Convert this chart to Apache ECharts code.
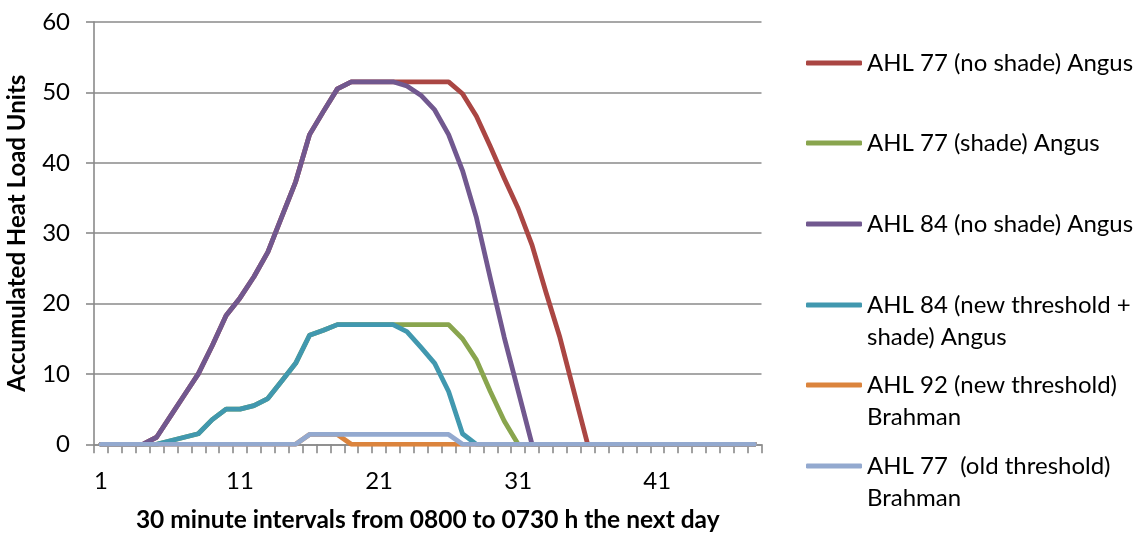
<!DOCTYPE html>
<html>
<head>
<meta charset="utf-8">
<title>Accumulated Heat Load Units</title>
<script src="https://cdn.jsdelivr.net/npm/echarts@6/dist/echarts.min.js"></script>
<style>
  html, body { margin: 0; padding: 0; background: #ffffff; }
  #chart { width: 1141px; height: 533px; }
</style>
</head>
<body>
<div id="chart"></div>
<script>
// 30-minute intervals, 1..48
const intervals = Array.from({ length: 48 }, (_, i) => String(i + 1));

const seriesNames = [
  'AHL 77 (no shade) Angus',
  'AHL 77 (shade) Angus',
  'AHL 84 (no shade) Angus',
  'AHL 84 (new threshold + shade) Angus',
  'AHL 92 (new threshold) Brahman',
  'AHL 77  (old threshold) Brahman'
];

// Legend wording, wrapped as printed
const legendLabels = [
  'AHL 77 (no shade) Angus',
  'AHL 77 (shade) Angus',
  'AHL 84 (no shade) Angus',
  'AHL 84 (new threshold +\nshade) Angus',
  'AHL 92 (new threshold)\nBrahman',
  'AHL 77  (old threshold)\nBrahman'
];

const seriesColors = ['#AA4643', '#89A54E', '#71588F', '#4198AF', '#DB843D', '#93A9CF'];

const ahl77NoShade = [0, 0, 0, 0, 1, 4, 7, 10, 14, 18.3, 20.8, 23.8, 27.3, 32.3, 37.3, 44, 47.3, 50.5, 51.5, 51.5,
  51.5, 51.5, 51.5, 51.5, 51.5, 51.5, 49.8, 46.6, 42.3, 37.8, 33.5, 28.3, 21.6, 15.2, 7.6, 0, 0, 0, 0, 0,
  0, 0, 0, 0, 0, 0, 0, 0];
const ahl77Shade = [0, 0, 0, 0, 0, 0.5, 1, 1.5, 3.5, 5, 5, 5.5, 6.5, 9, 11.5, 15.5, 16.2, 17, 17, 17,
  17, 17, 17, 17, 17, 17, 15, 12, 7.5, 3.3, 0, 0, 0, 0, 0, 0, 0, 0, 0, 0,
  0, 0, 0, 0, 0, 0, 0, 0];
const ahl84NoShade = [0, 0, 0, 0, 1, 4, 7, 10, 14, 18.3, 20.8, 23.8, 27.3, 32.3, 37.3, 44, 47.3, 50.5, 51.5, 51.5,
  51.5, 51.5, 50.9, 49.6, 47.5, 44, 38.9, 32.2, 23.6, 15.2, 7.6, 0, 0, 0, 0, 0, 0, 0, 0, 0,
  0, 0, 0, 0, 0, 0, 0, 0];
const ahl84NewShade = [0, 0, 0, 0, 0, 0.5, 1, 1.5, 3.5, 5, 5, 5.5, 6.5, 9, 11.5, 15.5, 16.2, 17, 17, 17,
  17, 17, 16, 13.8, 11.5, 7.5, 1.5, 0, 0, 0, 0, 0, 0, 0, 0, 0, 0, 0, 0, 0,
  0, 0, 0, 0, 0, 0, 0, 0];
const ahl92New = [0, 0, 0, 0, 0, 0, 0, 0, 0, 0, 0, 0, 0, 0, 0, 1.4, 1.4, 1.4, 0, 0,
  0, 0, 0, 0, 0, 0, 0, 0, 0, 0, 0, 0, 0, 0, 0, 0, 0, 0, 0, 0,
  0, 0, 0, 0, 0, 0, 0, 0];
const ahl77Old = [0, 0, 0, 0, 0, 0, 0, 0, 0, 0, 0, 0, 0, 0, 0, 1.4, 1.4, 1.4, 1.4, 1.4,
  1.4, 1.4, 1.4, 1.4, 1.4, 1.4, 0, 0, 0, 0, 0, 0, 0, 0, 0, 0, 0, 0, 0, 0,
  0, 0, 0, 0, 0, 0, 0, 0];

const seriesValues = [ahl77NoShade, ahl77Shade, ahl84NoShade, ahl84NewShade, ahl92New, ahl77Old];

const yTicks = { min: 0, max: 60, interval: 10 };

const FONT = 'Lato';
const GRID_GREY = '#8a8a8a';

// Legend rows: icon centre y for each entry
const legendRowY = [63, 143, 224, 305, 385, 466];
const LINE_H = 32;

// Wrapped labels get an empty leading line so the first printed line
// sits level with the legend swatch (text is centred on the swatch).
const legends = seriesNames.map((name, i) => {
  const wraps = legendLabels[i].indexOf('\n') >= 0;
  const label = wraps ? ' \n' + legendLabels[i] : legendLabels[i];
  return {
    data: [name],
    orient: 'vertical',
    left: 806,
    top: legendRowY[i] - (wraps ? 1.5 * LINE_H : LINE_H / 2),
    padding: 0,
    itemWidth: 56,
    itemHeight: 5,
    icon: 'roundRect',
    selectedMode: false,
    formatter: () => label,
    textStyle: {
      fontFamily: FONT,
      fontSize: 24,
      color: '#000',
      lineHeight: LINE_H
    }
  };
});

const chart = echarts.init(document.getElementById('chart'), null, { renderer: 'canvas' });

chart.setOption({
  animation: false,
  backgroundColor: '#ffffff',
  color: seriesColors,
  legend: legends,
  grid: { left: 94, right: 379.5, top: 22, bottom: 88.7, containLabel: false, outerBoundsMode: 'none' },
  xAxis: {
    type: 'category',
    data: intervals,
    boundaryGap: true,
    name: '30 minute intervals from 0800 to 0730 h the next day',
    nameLocation: 'middle',
    nameGap: 64,
    nameTextStyle: { fontFamily: FONT, fontSize: 24.5, fontWeight: 'bold', color: '#000', lineHeight: 24 },
    axisLine: { show: true, lineStyle: { color: GRID_GREY, width: 1.6 } },
    axisTick: { show: true, interval: 0, length: 9, alignWithLabel: false, lineStyle: { color: GRID_GREY, width: 1.6 } },
    axisLabel: { interval: 9, margin: 25, fontFamily: FONT, fontSize: 24, color: '#000' },
    splitLine: { show: false }
  },
  yAxis: {
    type: 'value',
    min: yTicks.min,
    max: yTicks.max,
    interval: yTicks.interval,
    name: 'Accumulated Heat Load Units',
    nameLocation: 'middle',
    nameGap: 56,
    nameTextStyle: { fontFamily: FONT, fontSize: 24, fontWeight: 'bold', color: '#000', lineHeight: 28 },
    axisLine: { show: true, lineStyle: { color: GRID_GREY, width: 1.6 } },
    axisTick: { show: true, length: 8, lineStyle: { color: GRID_GREY, width: 1.6 } },
    axisLabel: { margin: 24, fontFamily: FONT, fontSize: 24, color: '#000' },
    splitLine: { show: true, lineStyle: { color: GRID_GREY, width: 1.6 } }
  },
  series: seriesNames.map((name, i) => ({
    name: name,
    type: 'line',
    data: seriesValues[i],
    showSymbol: false,
    symbol: 'none',
    smooth: false,
    lineStyle: { width: 4.8, color: seriesColors[i], join: 'round', cap: 'round' },
    itemStyle: { color: seriesColors[i] },
    z: 2 + i
  }))
});
</script>
</body>
</html>
